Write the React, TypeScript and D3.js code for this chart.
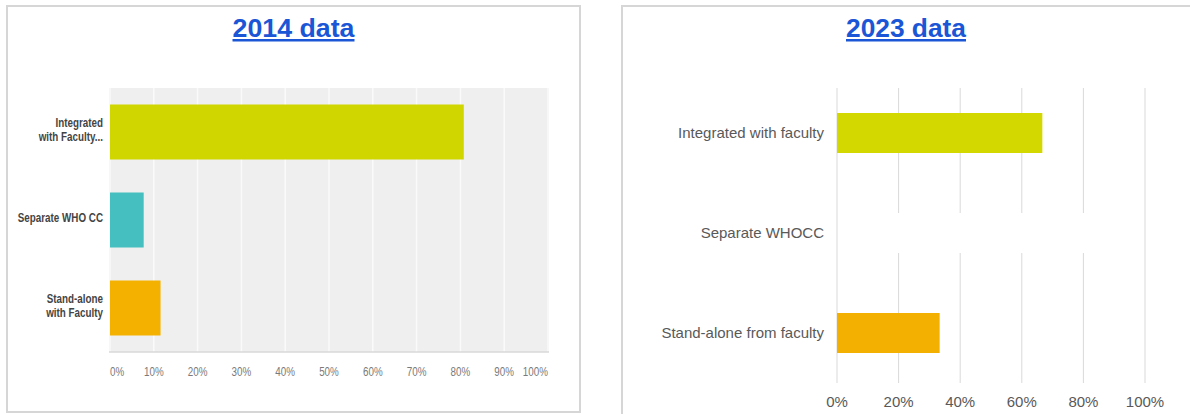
import React from "react";
import * as d3 from "d3";

const cats2014 = ["Integrated with Faculty...", "Separate WHO CC", "Stand-alone with Faculty"];
const labelLines2014 = [["Integrated", "with Faculty..."], ["Separate WHO CC"], ["Stand-alone", "with Faculty"]];
const values2014 = [80.77, 7.69, 11.54];
const colors2014 = ["#cfd600", "#45bfc0", "#f4b100"];
const ticks2014 = [0, 10, 20, 30, 40, 50, 60, 70, 80, 90, 100];

const cats2023 = ["Integrated with faculty", "Separate WHOCC", "Stand-alone from faculty"];
const values2023 = [66.67, 0, 33.33];
const colors2023 = ["#d3d800", "#45bfc0", "#f3b000"];
const ticks2023 = [0, 20, 40, 60, 80, 100];

const arial = "'Liberation Sans', Arial, Helvetica, sans-serif";
const SQ = 0.82; // horizontal squeeze to emulate a narrow font

export default function App() {
  const xL = d3.scaleLinear().domain([0, 100]).range([110, 548]);
  const yL = d3.scaleBand<string>().domain(cats2014).range([88, 352]).paddingInner(0.375).paddingOuter(0.1875);

  const xR = d3.scaleLinear().domain([0, 100]).range([837, 1145]);
  const yR = d3.scaleBand<string>().domain(cats2023).range([83, 383]).paddingInner(0.6).paddingOuter(0.3);

  return (
    <svg width={1190} height={414} style={{ position: "absolute", left: 0, top: 0, display: "block" }}>
      <rect x={0} y={0} width={1190} height={414} fill="#ffffff" />
      {/* Left panel */}
      <rect x={7} y={6} width={573} height={406} fill="#fff" stroke="#d6d6d6" strokeWidth={2} />
      <text x={293.5} y={37} textAnchor="middle" fontFamily={arial} fontWeight="bold" fontSize={25}
        fill="#1a56d6" textDecoration="underline" textLength={122} lengthAdjust="spacingAndGlyphs">2014 data</text>
      <rect x={xL(0) - 1} y={88} width={xL(100) - xL(0) + 2} height={264} fill="#efefef" />
      {ticks2014.map((t) => (
        <line key={t} x1={xL(t)} x2={xL(t)} y1={88} y2={352} stroke="#fafafa" strokeWidth={1.5} />
      ))}
      <line x1={xL(0) - 1} x2={xL(100) + 1} y1={352} y2={352} stroke="#d9d9d9" strokeWidth={1.5} />
      {cats2014.map((c, i) => (
        <rect key={c} x={xL(0)} y={yL(c)} width={xL(values2014[i]) - xL(0)} height={yL.bandwidth()} fill={colors2014[i]} />
      ))}
      {cats2014.map((c, i) => {
        const lines = labelLines2014[i];
        const cy = (yL(c) as number) + yL.bandwidth() / 2 - 2;
        return (
          <g key={c}>
            {lines.map((l, j) => (
              <text key={j} transform={`translate(103,${cy + (j - (lines.length - 1) / 2) * 14 + 4}) scale(${SQ},1)`}
                textAnchor="end" fontFamily={arial} fontWeight="bold" fontSize={12} fill="#444">{l}</text>
            ))}
          </g>
        );
      })}
      {ticks2014.map((t, i) => (
        <text key={t} transform={`translate(${xL(t)},376) scale(${SQ},1)`}
          textAnchor={i === 0 ? "start" : i === ticks2014.length - 1 ? "end" : "middle"}
          fontFamily={arial} fontSize={12} fill="#7a7a7a">{t + "%"}</text>
      ))}

      {/* Right panel */}
      <rect x={622} y={6} width={580} height={420} fill="#fff" stroke="#d6d6d6" strokeWidth={2} />
      <text x={906} y={37} textAnchor="middle" fontFamily={arial} fontWeight="bold" fontSize={25}
        fill="#1a56d6" textDecoration="underline" textLength={120} lengthAdjust="spacingAndGlyphs">2023 data</text>
      {ticks2023.map((t) => (
        <line key={t} x1={xR(t)} x2={xR(t)} y1={88} y2={383} stroke="#d9d9d9" strokeWidth={1} />
      ))}
      {/* white band over the empty middle row */}
      <rect x={xR(0) + 2} y={(yR(cats2023[1]) as number)} width={xR(100) - xR(0) - 4} height={yR.bandwidth()} fill="#fff" />
      {cats2023.map((c, i) => (
        <rect key={c} x={xR(0)} y={yR(c)} width={xR(values2023[i]) - xR(0)} height={yR.bandwidth()} fill={colors2023[i]} />
      ))}
      {cats2023.map((c) => (
        <text key={c} x={824} y={(yR(c) as number) + yR.bandwidth() / 2 + 5} textAnchor="end"
          fontFamily={arial} fontSize={15} fill="#595959">{c}</text>
      ))}
      {ticks2023.map((t) => (
        <text key={t} x={xR(t)} y={407} textAnchor="middle" fontFamily={arial} fontSize={15} fill="#595959">{t + "%"}</text>
      ))}
    </svg>
  );
}
